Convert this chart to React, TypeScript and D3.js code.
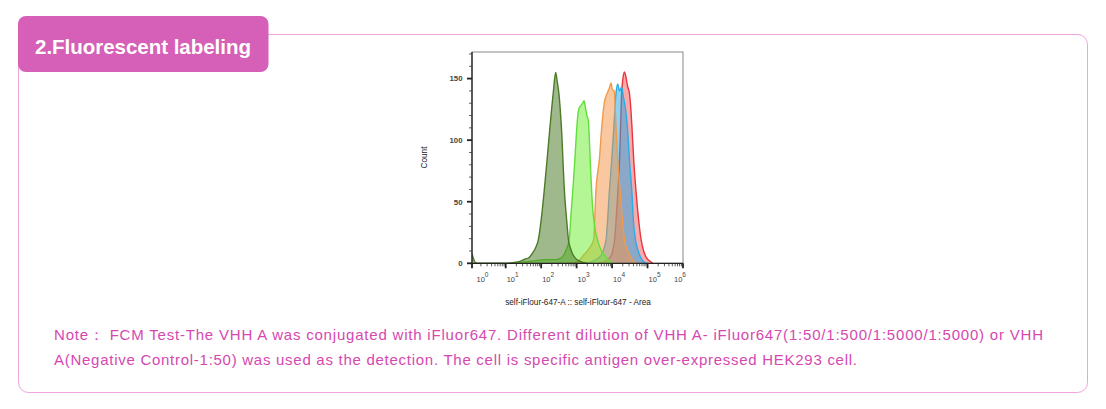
import React from "react";
import * as d3 from "d3";

// Series: [log10(intensity), count]
const negativeControl: [number, number][] = [
  [0.05, 8], [0.1, 3], [0.15, 0.5], [0.25, 0], [1.0, 0], [1.2, 0.5], [1.4, 1.5], [1.55, 3.5], [1.65, 4.5],
  [1.75, 8], [1.85, 13], [1.92, 19], [2.0, 35], [2.08, 57], [2.17, 85], [2.25, 111], [2.34, 138], [2.41, 155],
  [2.45, 148], [2.5, 138], [2.57, 111], [2.66, 57], [2.72, 35], [2.77, 19], [2.83, 12], [2.88, 8], [2.97, 4],
  [3.07, 2], [3.2, 0.5], [3.3, 0],
];
const dilution5000b: [number, number][] = [
  [1.3, 0], [1.5, 1], [1.8, 2], [2.1, 3], [2.4, 3], [2.55, 4], [2.66, 8], [2.72, 12], [2.79, 19], [2.85, 43],
  [2.9, 62], [2.95, 84], [3.0, 108], [3.04, 122], [3.07, 126], [3.12, 128], [3.17, 130], [3.21, 132],
  [3.25, 126], [3.29, 120], [3.33, 116], [3.36, 100], [3.4, 73], [3.45, 46], [3.52, 28], [3.59, 19],
  [3.7, 10], [3.83, 5], [3.95, 1], [4.05, 0],
];
const dilution5000: [number, number][] = [
  [2.8, 0], [3.0, 1], [3.06, 2], [3.2, 6.7], [3.35, 12], [3.48, 19], [3.51, 35], [3.54, 57], [3.6, 75],
  [3.64, 84], [3.71, 111], [3.78, 130], [3.86, 138], [3.92, 142], [3.97, 146.5], [4.01, 141], [4.06, 140],
  [4.11, 111], [4.16, 84], [4.23, 57], [4.29, 35], [4.35, 19], [4.45, 9], [4.54, 4], [4.62, 1], [4.7, 0],
];
const dilution500: [number, number][] = [
  [3.2, 0], [3.4, 1], [3.55, 3], [3.69, 6.7], [3.83, 19], [3.88, 38], [3.92, 57], [3.99, 84], [4.05, 111],
  [4.11, 138], [4.16, 145.4], [4.21, 140], [4.27, 143], [4.32, 135], [4.38, 125], [4.43, 111], [4.49, 84],
  [4.56, 57], [4.6, 35], [4.66, 19], [4.75, 9], [4.82, 4], [4.9, 1], [5.0, 0],
];
const dilution50: [number, number][] = [
  [3.6, 0], [3.83, 2], [3.97, 6], [4.07, 19], [4.12, 38], [4.16, 57], [4.21, 84], [4.24, 111], [4.27, 138],
  [4.3, 148.7], [4.35, 155.4], [4.4, 150], [4.43, 144.6], [4.49, 138], [4.53, 125], [4.56, 111], [4.61, 84],
  [4.68, 57], [4.75, 35], [4.82, 19], [4.89, 10], [4.96, 5], [5.05, 2], [5.15, 0],
];

const seriesList = [
  { name: "1:50", data: dilution50, stroke: "#e5373f", fill: "#f55555" },
  { name: "1:500", data: dilution500, stroke: "#27aee6", fill: "#1ea5e6" },
  { name: "1:5000", data: dilution5000, stroke: "#f09a4a", fill: "#f59141" },
  { name: "1:5000b", data: dilution5000b, stroke: "#62df3a", fill: "#69eb2d" },
  { name: "Negative Control-1:50", data: negativeControl, stroke: "#4c7a26", fill: "#417319" },
];

const yTicks = [0, 50, 100, 150];
const xDecades = [0, 1, 2, 3, 4, 5, 6];
const title = "2.Fluorescent labeling";
const xAxisLabel = "self-iFlour-647-A :: self-iFlour-647 - Area";
const yAxisLabel = "Count";
const noteLines = [
  "Note\uFF1A FCM Test-The VHH A was conjugated with iFluor647. Different dilution of VHH A- iFluor647(1:50/1:500/1:5000/1:5000) or VHH",
  "A(Negative Control-1:50) was used as the detection. The cell is specific antigen over-expressed HEK293 cell.",
];

export default function App() {
  const left = 472, right = 683, top = 52, bottom = 263.3;
  const x = d3.scaleLinear().domain([0.05, 6]).range([left, right]);
  const y = d3.scaleLinear().domain([0, 171.6]).range([bottom, top]);
  const area = d3.area<[number, number]>().x((d) => x(d[0])).y0(y(0)).y1((d) => y(d[1])).curve(d3.curveMonotoneX);
  const line = d3.line<[number, number]>().x((d) => x(d[0])).y((d) => y(d[1])).curve(d3.curveMonotoneX);

  const yMinor = d3.range(10, 171, 10).filter((v) => v % 50 !== 0);
  const xMinor: number[] = [];
  xDecades.forEach((k) => {
    for (let m = 2; m <= 9; m++) {
      const v = k + Math.log10(m);
      if (v < 6) xMinor.push(v);
    }
  });
  const font = "'Liberation Sans', Arial, sans-serif";
  const pink = "#d65fb7";

  return (
    <svg width={1106} height={409} style={{ position: "absolute", left: 0, top: 0, background: "#fff" }}>
      {/* card */}
      <rect x={18.5} y={34.5} width={1069} height={358} rx={10} fill="none" stroke="#efa3df" strokeWidth={1} />
      <rect x={18} y={16} width={250.5} height={56} rx={8} fill={pink} />
      <text x={35} y={53.5} fill="#fff" fontFamily={font} fontSize={20.5} fontWeight={600}
        textLength={216} lengthAdjust="spacing">{title}</text>

      {/* chart */}
      <defs>
        <clipPath id="plotClip">
          <rect x={left} y={top} width={right - left} height={bottom - top} />
        </clipPath>
      </defs>
      <rect x={left} y={top} width={right - left} height={bottom - top} fill="#fff" stroke="#8a8a8a" strokeWidth={1} />
      <g clipPath="url(#plotClip)">
        {seriesList.map((s) => (
          <g key={s.name}>
            <path d={area(s.data) || ""} fill={s.fill} fillOpacity={0.5} />
            <path d={line(s.data) || ""} fill="none" stroke={s.stroke} strokeWidth={1.4} />
          </g>
        ))}
      </g>
      {/* y axis */}
      <line x1={left} x2={left} y1={top} y2={bottom + 1} stroke="#222" strokeWidth={1.3} />
      {yMinor.map((v) => (
        <line key={"ym" + v} x1={left - 3} x2={left} y1={y(v)} y2={y(v)} stroke="#333" strokeWidth={0.8} />
      ))}
      {yTicks.map((v) => (
        <g key={"y" + v}>
          <line x1={left - 5} x2={left} y1={y(v)} y2={y(v)} stroke="#222" strokeWidth={1.8} />
          <text x={left - 9.5} y={y(v) + 2.8} textAnchor="end" fontFamily={font} fontSize={7.8} fontWeight={700} fill="#444">
            {v}
          </text>
        </g>
      ))}
      {/* x axis */}
      <line x1={left - 1} x2={right} y1={bottom} y2={bottom} stroke="#222" strokeWidth={1.3} />
      {xMinor.map((v, i) => (
        <line key={"xm" + i} x1={x(v)} x2={x(v)} y1={bottom} y2={bottom + 3} stroke="#333" strokeWidth={0.8} />
      ))}
      {xDecades.map((k) => {
        const px = Math.max(x(k), left);
        const lx = k === 0 ? px + 4.5 : k === 6 ? px - 9 : px + 1;
        return (
          <g key={"x" + k}>
            <line x1={px} x2={px} y1={bottom} y2={bottom + 5} stroke="#222" strokeWidth={1.8} />
            <text x={lx} y={bottom + 18.5} fontFamily={font} fontSize={7.5} fill="#444" textAnchor="start">
              10
              <tspan dy={-5} fontSize={6.5}>{k}</tspan>
            </text>
          </g>
        );
      })}
      <text x={578} y={305} textAnchor="middle" fontFamily={font} fontSize={8.2} fill="#222">{xAxisLabel}</text>
      <text transform="translate(427,157.5) rotate(-90)" textAnchor="middle" fontFamily={font} fontSize={8.2} fill="#222">
        {yAxisLabel}
      </text>

      {/* note */}
      {noteLines.map((t, i) => (
        <text key={i} x={54} y={340 + i * 25} fontFamily={font} fontSize={15} fontWeight={500} fill="#d548b0"
          textLength={i === 0 ? 989 : 803} lengthAdjust="spacing">
          {t}
        </text>
      ))}
    </svg>
  );
}
